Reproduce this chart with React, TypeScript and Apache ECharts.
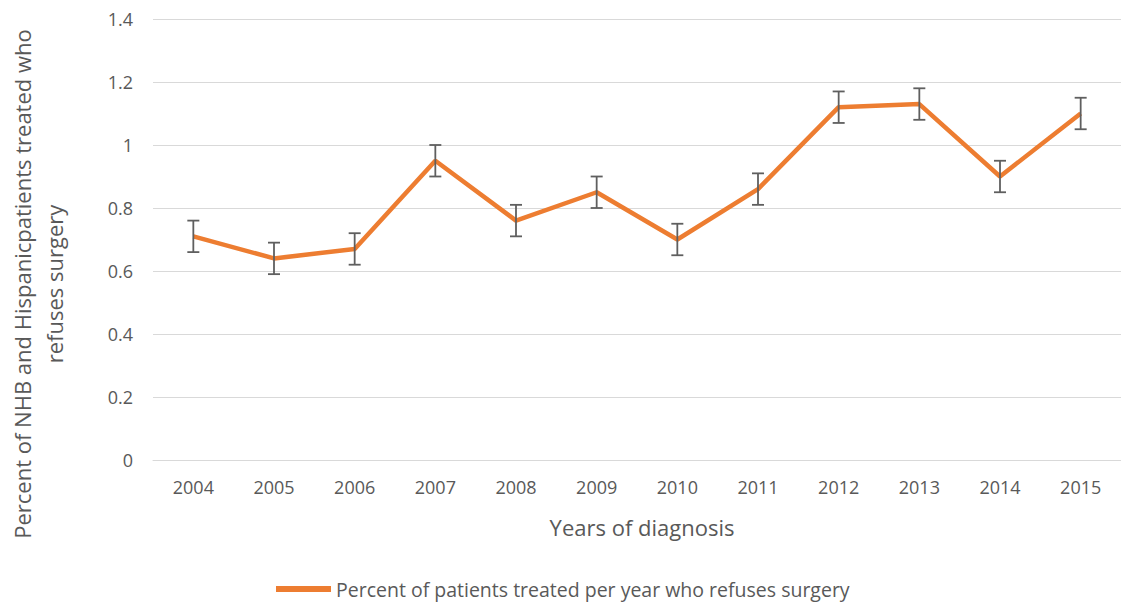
import React, { useEffect, useRef } from "react";
import * as echarts from "echarts";

const years = ["2004", "2005", "2006", "2007", "2008", "2009", "2010", "2011", "2012", "2013", "2014", "2015"];
const percentRefusing = [0.71, 0.64, 0.67, 0.95, 0.76, 0.85, 0.70, 0.86, 1.12, 1.13, 0.90, 1.10];
const errorLow = [0.66, 0.59, 0.62, 0.90, 0.71, 0.80, 0.65, 0.81, 1.07, 1.08, 0.85, 1.05];
const errorHigh = [0.76, 0.69, 0.72, 1.00, 0.81, 0.90, 0.75, 0.91, 1.17, 1.18, 0.95, 1.15];
const seriesName = "Percent of patients treated per year who refuses surgery";
const yTitle = "Percent of NHB and Hispanicpatients treated who\nrefuses surgery";
const xTitle = "Years of diagnosis";

const FONT = "'Open Sans', 'Noto Sans', sans-serif";
const TEXT = "#595959";

export default function App() {
  const ref = useRef<HTMLDivElement>(null);
  useEffect(() => {
    if (!ref.current) return;
    const chart = echarts.init(ref.current, null, { renderer: "svg" });
    const errData = years.map((_, i) => [i, errorLow[i], errorHigh[i]]);
    chart.setOption({
      animation: false,
      backgroundColor: "#ffffff",
      textStyle: { fontFamily: FONT },
      grid: { left: 153, top: 19, width: 977, height: 441, containLabel: false },
      xAxis: {
        type: "category",
        data: years,
        boundaryGap: true,
        axisLine: { show: true, lineStyle: { color: "#d9d9d9", width: 1 } },
        axisTick: { show: false },
        axisLabel: { color: TEXT, fontSize: 18, margin: 18, fontFamily: FONT },
        splitLine: { show: false },
      },
      yAxis: {
        type: "value",
        min: 0,
        max: 1.4,
        interval: 0.2,
        axisLine: { show: false },
        axisTick: { show: false },
        axisLabel: { color: TEXT, fontSize: 18, margin: 20, fontFamily: FONT },
        splitLine: { show: true, lineStyle: { color: "#d9d9d9", width: 1 } },
      },
      legend: {
        show: true,
        left: 276,
        top: 578,
        padding: 0,
        icon: "rect",
        itemWidth: 55,
        itemHeight: 6,
        data: [seriesName],
        textStyle: { color: TEXT, fontSize: 19.5, lineHeight: 22, fontFamily: FONT },
      },
      graphic: [
        {
          type: "text",
          x: 38,
          y: 284,
          rotation: Math.PI / 2,
          style: {
            text: yTitle,
            fill: TEXT,
            font: `22px ${FONT}`,
            align: "center",
            verticalAlign: "middle",
            lineHeight: 32,
          },
        },
        {
          type: "text",
          x: 642,
          y: 527,
          style: {
            text: xTitle,
            fill: TEXT,
            font: `22px ${FONT}`,
            align: "center",
            verticalAlign: "middle",
          },
        },
      ],
      series: [
        {
          name: seriesName,
          type: "line",
          data: percentRefusing,
          symbol: "none",
          lineStyle: { color: "#ED7D31", width: 4.5 },
          itemStyle: { color: "#ED7D31" },
          z: 2,
        },
        {
          type: "custom",
          name: "err",
          data: errData,
          z: 3,
          renderItem: (params: any, api: any) => {
            const x = api.value(0);
            const lo = api.coord([x, api.value(1)]);
            const hi = api.coord([x, api.value(2)]);
            const cap = 6;
            const style = { stroke: "#5f5f5f", lineWidth: 1.8 };
            return {
              type: "group",
              children: [
                { type: "line", shape: { x1: lo[0], y1: lo[1], x2: hi[0], y2: hi[1] }, style },
                { type: "line", shape: { x1: lo[0] - cap, y1: lo[1], x2: lo[0] + cap, y2: lo[1] }, style },
                { type: "line", shape: { x1: hi[0] - cap, y1: hi[1], x2: hi[0] + cap, y2: hi[1] }, style },
              ],
            };
          },
        },
      ],
    });
    return () => chart.dispose();
  }, []);
  return (
    <div
      ref={ref}
      style={{ position: "fixed", left: 0, top: 0, width: 1121, height: 605 }}
    />
  );
}
